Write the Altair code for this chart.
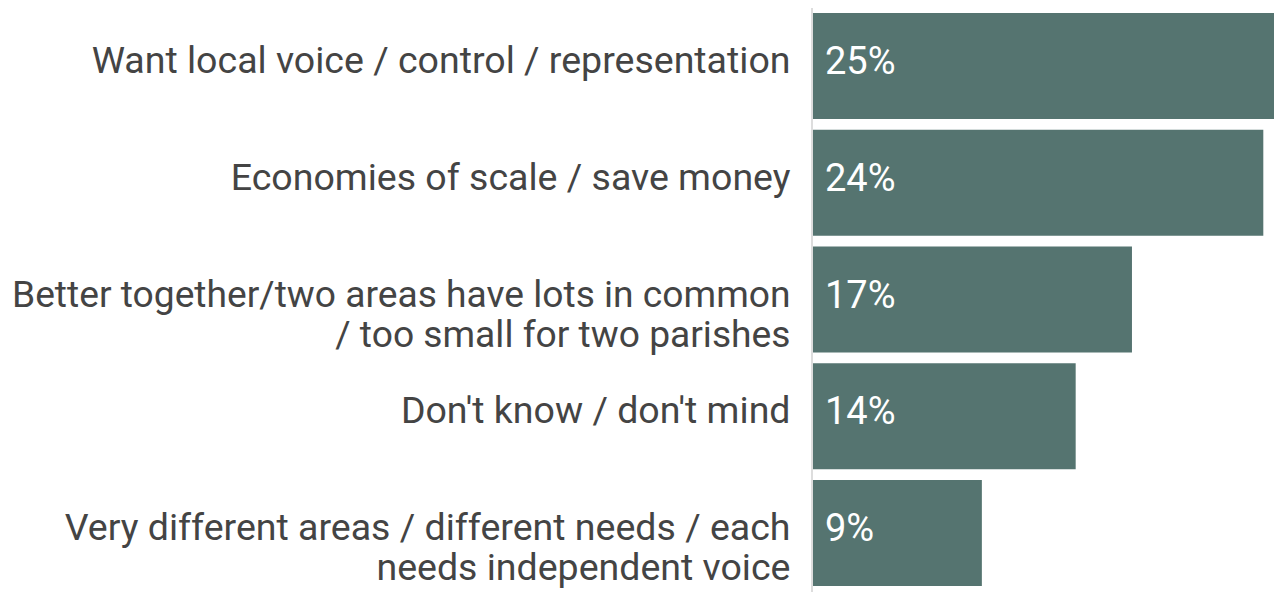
import altair as alt
import pandas as pd

categories = [
    "Want local voice / control / representation",
    "Economies of scale / save money",
    "Better together/two areas have lots in common|/ too small for two parishes",
    "Don't know / don't mind",
    "Very different areas / different needs / each|needs independent voice",
]
values = [25, 24, 17, 14, 9]
labels = ["25%", "24%", "17%", "14%", "9%"]

df = pd.DataFrame({"cat": categories, "val": values, "lab": labels})

W, H = 461, 583
FONT = "Roboto"

y_enc = alt.Y(
    "cat:N",
    sort=categories,
    scale=alt.Scale(paddingInner=0.092, paddingOuter=0.043),
    axis=alt.Axis(
        title=None,
        domain=False,
        ticks=False,
        labelFontSize={"condition": {"test": "indexof(datum.value, 'Better') == 0", "value": 37.2}, "value": 37.5},
        labelFont=FONT,
        labelColor="#444444",
        labelPadding=23,
        labelLimit=1000,
        labelLineHeight=40,
        labelOffset=-4,
        labelExpr="split(datum.label, '|')",
    ),
)
x_enc = alt.X("val:Q", scale=alt.Scale(domain=[0, 24.57], nice=False), axis=None)

bars = alt.Chart(df).mark_bar(color="#557470", clip=False).encode(x=x_enc, y=y_enc)
text = alt.Chart(df).mark_text(
    align="left", baseline="middle", dx=12, dy=-3, color="white", fontSize=38, font=FONT
).encode(x=alt.datum(0), y=alt.Y("cat:N", sort=categories), text="lab:N")
rule = alt.Chart(df).mark_rule(color="#dddddd", strokeWidth=2, clip=False).encode(
    x=alt.value(-1), y=alt.value(0), y2=alt.value(H + 1)
)

chart = (
    alt.layer(rule, bars, text)
    .properties(
        width=W,
        height=H,
        autosize=alt.AutoSizeParams(type="none"),
        padding={"left": 805, "top": 0, "right": 0, "bottom": 1},
    )
    .configure_view(stroke=None)
)

chart.save("out.html", embed_options={"renderer": "svg", "actions": False})
